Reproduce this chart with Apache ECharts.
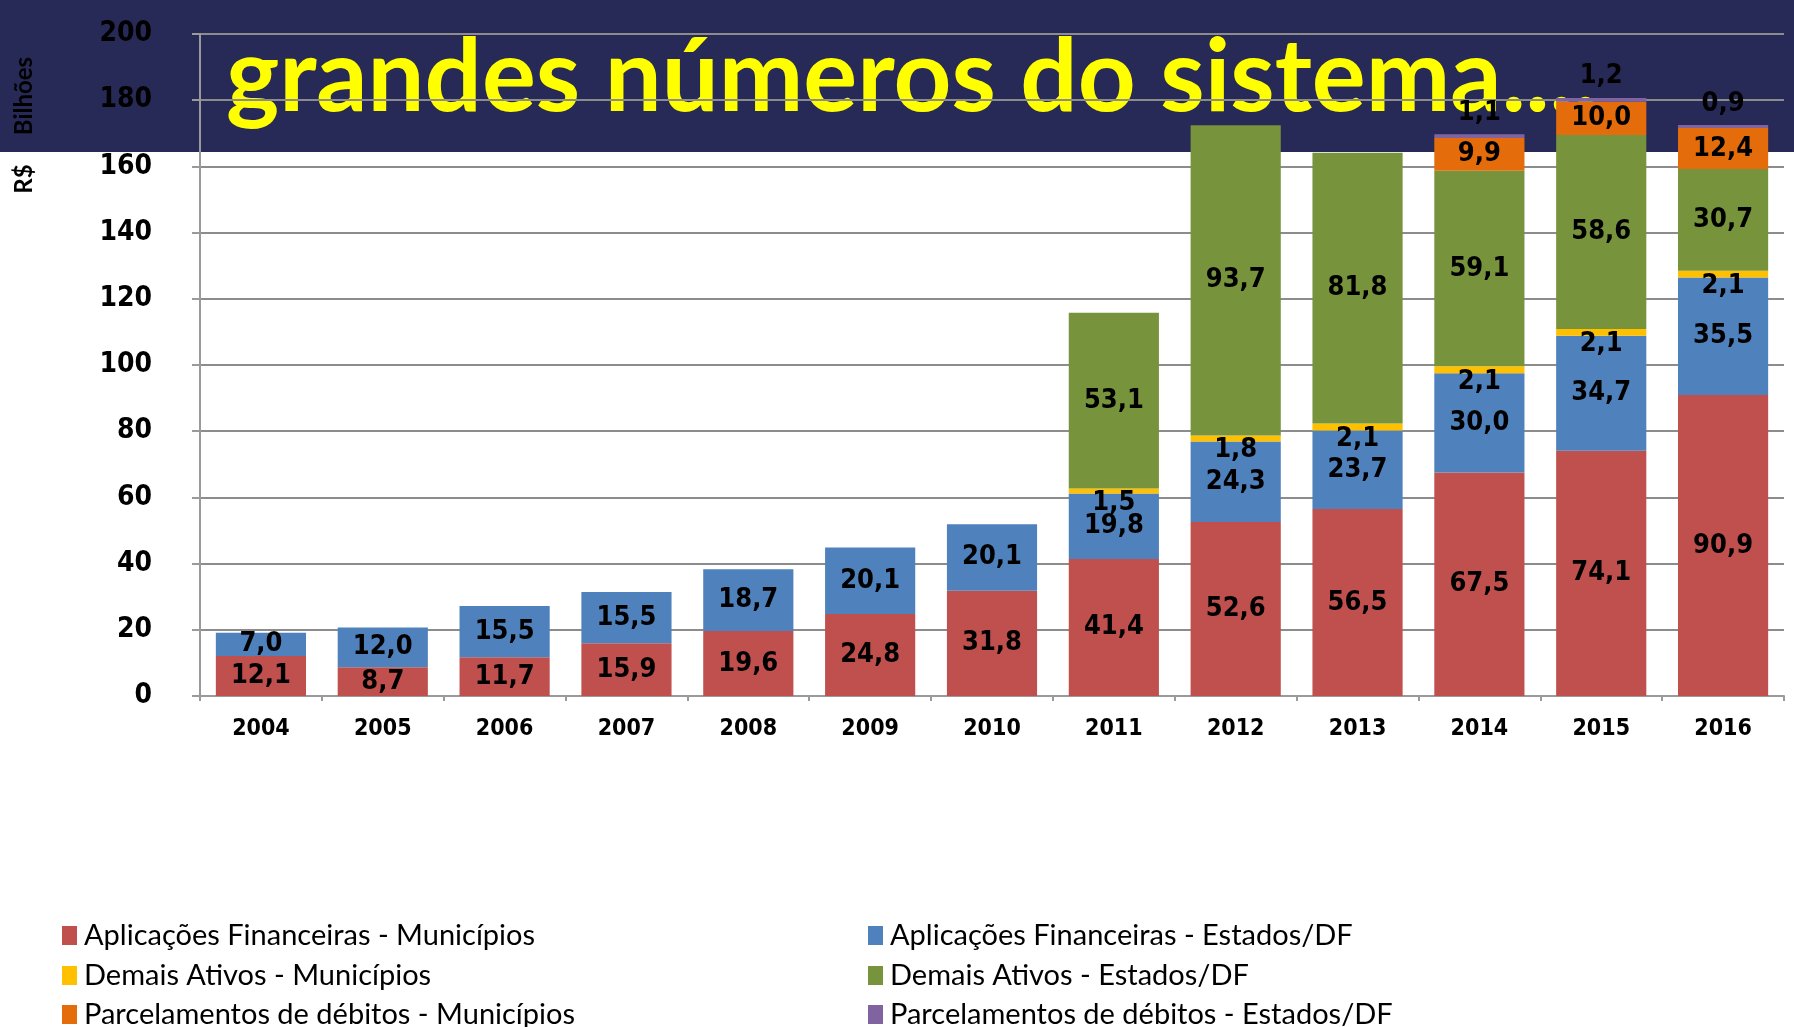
<!DOCTYPE html>
<html>
<head>
<meta charset="utf-8">
<script src="https://cdn.jsdelivr.net/npm/echarts@6/dist/echarts.min.js"></script>
<style>
  html, body { margin: 0; padding: 0; background: #fff; }
  #chart { width: 1794px; height: 1027px; }
</style>
</head>
<body>
<div id="chart"></div>
<script>
const years = ['2004', '2005', '2006', '2007', '2008', '2009', '2010', '2011', '2012', '2013', '2014', '2015', '2016'];

const aplicMunicipios = [12.1, 8.7, 11.7, 15.9, 19.6, 24.8, 31.8, 41.4, 52.6, 56.5, 67.5, 74.1, 90.9];
const aplicEstados = [7.0, 12.0, 15.5, 15.5, 18.7, 20.1, 20.1, 19.8, 24.3, 23.7, 30.0, 34.7, 35.5];
const demaisMunicipios = [null, null, null, null, null, null, null, 1.5, 1.8, 2.1, 2.1, 2.1, 2.1];
const demaisEstados = [null, null, null, null, null, null, null, 53.1, 93.7, 81.8, 59.1, 58.6, 30.7];
const parcMunicipios = [null, null, null, null, null, null, null, null, null, null, 9.9, 10.0, 12.4];
const parcEstados = [null, null, null, null, null, null, null, null, null, null, 1.1, 1.2, 0.9];

const seriesNames = [
  'Aplicações Financeiras - Municípios',
  'Aplicações Financeiras - Estados/DF',
  'Demais Ativos - Municípios',
  'Demais Ativos - Estados/DF',
  'Parcelamentos de débitos - Municípios',
  'Parcelamentos de débitos - Estados/DF'
];

const yTicks = [0, 20, 40, 60, 80, 100, 120, 140, 160, 180, 200];

const narrow = "'Liberation Sans Narrow', 'DejaVu Sans Condensed', sans-serif";

const fmt = (p) => p.value == null ? '' : p.value.toFixed(1).replace('.', ',');

const makeSeries = (name, data, color, label) => ({
  name: name,
  type: 'bar',
  stack: 'total',
  data: data,
  barWidth: '74%',
  itemStyle: { color: color },
  label: Object.assign({
    show: true,
    position: 'inside',
    formatter: fmt,
    color: '#000',
    fontFamily: narrow,
    fontWeight: 'bold',
    fontSize: 27
  }, label || {})
});

// one legend per entry so the two columns line up like the slide
const legendTops = [921, 921, 961, 961, 1000, 1000];
const legends = seriesNames.map((n, i) => ({
  left: i % 2 === 0 ? 62 : 868,
  top: legendTops[i],
  itemWidth: 15,
  itemHeight: 19,
  icon: 'rect',
  padding: 0,
  textStyle: { fontFamily: 'Lato, sans-serif', fontSize: 29, color: '#000', padding: [0, 0, 0, 2] },
  data: [n]
}));

const chart = echarts.init(document.getElementById('chart'));

chart.setOption({
  animation: false,
  graphic: [
    {
      type: 'rect',
      z: -10,
      shape: { x: 0, y: 0, width: 1794, height: 152 },
      style: { fill: '#272957' }
    },
    {
      type: 'text',
      z: -9,
      x: 226,
      y: 28,
      style: {
        text: 'grandes números do sistema....',
        fill: '#ffff00',
        font: 'bold 101px Lato, sans-serif',
        verticalAlign: 'top'
      }
    },
    {
      type: 'text',
      x: 24,
      y: 96,
      rotation: Math.PI / 2,
      style: {
        text: 'Bilhões',
        fill: '#000',
        font: 'bold 24px Lato, sans-serif',
        align: 'center',
        verticalAlign: 'middle'
      }
    },
    {
      type: 'text',
      x: 24,
      y: 179,
      rotation: Math.PI / 2,
      style: {
        text: 'R$',
        fill: '#000',
        font: 'bold 24px Lato, sans-serif',
        align: 'center',
        verticalAlign: 'middle'
      }
    }
  ],
  grid: { left: 200, right: 10, top: 34, bottom: 331 },
  legend: legends,
  xAxis: {
    type: 'category',
    data: years,
    axisLine: { lineStyle: { color: '#9a9a9a', width: 2 } },
    axisTick: { show: true, lineStyle: { color: '#9a9a9a', width: 2 } },
    axisLabel: {
      color: '#000',
      fontFamily: narrow,
      fontWeight: 'bold',
      fontSize: 23,
      margin: 22
    }
  },
  yAxis: {
    type: 'value',
    min: yTicks[0],
    max: yTicks[yTicks.length - 1],
    interval: 20,
    axisLine: { show: true, lineStyle: { color: '#9a9a9a', width: 2 } },
    axisTick: { show: true, length: 8, lineStyle: { color: '#9a9a9a', width: 2 } },
    splitLine: { lineStyle: { color: '#8c8c8c', width: 2 } },
    axisLabel: {
      color: '#000',
      fontFamily: narrow,
      fontWeight: 'bold',
      fontSize: 28,
      margin: 48
    }
  },
  series: [
    makeSeries(seriesNames[0], aplicMunicipios, '#c0504d'),
    makeSeries(seriesNames[1], aplicEstados, '#4f81bd'),
    makeSeries(seriesNames[2], demaisMunicipios, '#ffc000', { offset: [0, 12] }),
    makeSeries(seriesNames[3], demaisEstados, '#77933c'),
    makeSeries(seriesNames[4], parcMunicipios, '#e46c0a'),
    makeSeries(seriesNames[5], parcEstados, '#8064a2', { position: 'top', distance: 8 })
  ]
});
</script>
</body>
</html>
